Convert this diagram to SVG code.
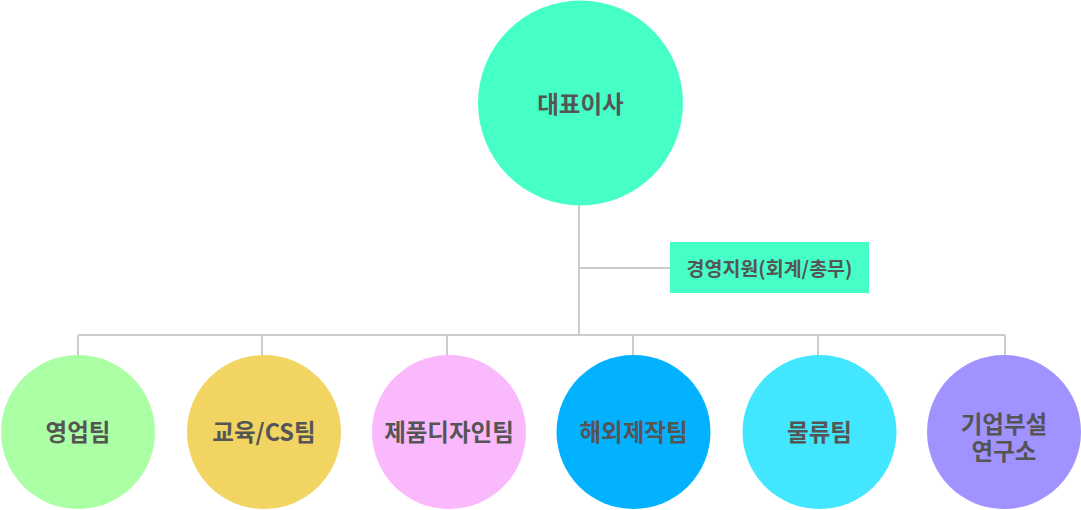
<svg xmlns="http://www.w3.org/2000/svg" width="1081" height="510" viewBox="0 0 1081 510">
<style>
.t{font-family:"Noto Sans CJK KR","Noto Sans",sans-serif;font-weight:700;fill:#555555;text-anchor:middle;dominant-baseline:central}
.big{font-size:23.5px}
.lbl{font-size:19.5px}
.ln{stroke:#cccccc;stroke-width:2;fill:none}
</style>
<rect width="1081" height="510" fill="#ffffff"/>
<g id="connectors">
<path class="ln" d="M579 205V335M579 268H670M78 335H1005M78 335V356M262 335V356M447 335V356M633 335V356M818 335V356M1005 335V356"/>
</g>
<g id="ceo"><circle cx="580.5" cy="103" r="102.5" fill="#46FFC7"/><text class="t big" x="580.5" y="103">대표이사</text></g>
<g id="support"><rect x="670" y="242" width="199" height="51" fill="#46FFC7"/><text class="t lbl" x="769.5" y="267.5">경영지원(회계/총무)</text></g>
<g id="sales"><circle cx="78" cy="432" r="77" fill="#ABFFA4"/><text class="t big" x="78" y="431">영업팀</text></g>
<g id="edu"><circle cx="264" cy="432" r="77" fill="#F1D462"/><text class="t big" x="264" y="431">교육/CS팀</text></g>
<g id="design"><circle cx="449" cy="432" r="77" fill="#FBB9FD"/><text class="t big" x="449" y="431">제품디자인팀</text></g>
<g id="overseas"><circle cx="633.5" cy="432" r="77" fill="#03B2FF"/><text class="t big" x="633.5" y="431">해외제작팀</text></g>
<g id="logistics"><circle cx="819.5" cy="432" r="77" fill="#42E6FF"/><text class="t big" x="819.5" y="431">물류팀</text></g>
<g id="lab"><circle cx="1004" cy="432" r="77" fill="#A193FF"/><text class="t big" x="1004" y="422.5"><tspan x="1004" y="422.5">기업부설</tspan><tspan x="1004" y="449.5">연구소</tspan></text></g>
</svg>
